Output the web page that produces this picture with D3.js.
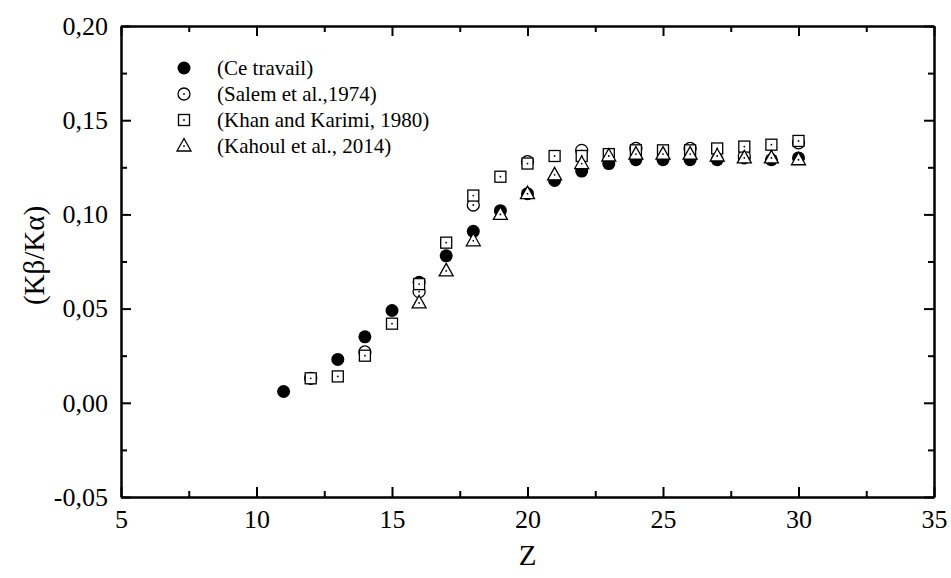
<!doctype html>
<html>
  <head>
    <meta charset="utf-8">
    <title>Kb/Ka ratio</title>
    <script src="https://d3js.org/d3.v7.min.js"></script>
    <style type="text/css">
      body { margin: 0; background-color: #ffffff; }
    </style>
  </head>
  <body>
    <script>
// data
var zCe = [11, 13, 14, 15, 16, 17, 18, 19, 20, 21, 22, 23, 24, 25, 26, 27, 28, 29, 30];
var ceTravail = [0.006, 0.023, 0.035, 0.049, 0.064, 0.078, 0.091, 0.102, 0.111, 0.118, 0.123, 0.127, 0.129, 0.129, 0.129, 0.129, 0.130, 0.129, 0.130];

var zSalem = [12, 14, 16, 18, 20, 22, 24, 26, 28, 30];
var salem = [0.013, 0.027, 0.059, 0.105, 0.128, 0.134, 0.135, 0.135, 0.131, 0.138];

var zKhan = [12, 13, 14, 15, 16, 17, 18, 19, 20, 21, 22, 23, 24, 25, 26, 27, 28, 29, 30];
var khan = [0.013, 0.014, 0.025, 0.042, 0.063, 0.085, 0.110, 0.120, 0.127, 0.131, 0.131, 0.132, 0.134, 0.134, 0.134, 0.135, 0.136, 0.137, 0.139];

var zKahoul = [16, 17, 18, 19, 20, 21, 22, 23, 24, 25, 26, 27, 28, 29, 30];
var kahoul = [0.053, 0.070, 0.086, 0.100, 0.111, 0.121, 0.127, 0.131, 0.132, 0.132, 0.132, 0.131, 0.130, 0.130, 0.129];

var legendLabels = ["(Ce travail)", "(Salem et al.,1974)", "(Khan and Karimi, 1980)", "(Kahoul et al., 2014)"];
var xTicks = [5, 10, 15, 20, 25, 30, 35];
var yTicks = [-0.05, 0, 0.05, 0.10, 0.15, 0.20];

var w = 951, h = 578;
var margin = {top: 26, right: 17, bottom: 81, left: 121};
var iw = w - margin.left - margin.right;
var ih = h - margin.top - margin.bottom;
var serif = "Liberation Serif";

var svg = d3.select("body").append("svg")
  .attr("width", w)
  .attr("height", h);

var g = svg.append("g").attr("transform", "translate(" + margin.left + "," + margin.top + ")");

var x = d3.scaleLinear().domain([5, 35]).range([0, iw]);
var y = d3.scaleLinear().domain([-0.05, 0.20]).range([ih, 0]);

var fmt = function(d) { return d.toFixed(2).replace(".", ","); };
var xMinor = d3.range(7.5, 35, 5);
var yMinor = d3.range(-0.025, 0.2, 0.05);

// axes, ticks pointing inward
function styleAxis(sel) {
  sel.attr("font-family", null).attr("font-size", null);
  sel.select(".domain").attr("stroke", "#000").attr("stroke-width", 2);
  sel.selectAll(".tick line").attr("stroke", "#000").attr("stroke-width", 2);
  sel.selectAll(".tick text").style("font-family", serif).style("font-size", "26px");
}

g.append("g").attr("transform", "translate(0," + ih + ")")
  .call(d3.axisBottom(x).tickValues(xTicks).tickSize(-10).tickPadding(13).tickSizeOuter(0))
  .call(styleAxis);
g.append("g").attr("transform", "translate(0," + ih + ")")
  .call(d3.axisBottom(x).tickValues(xMinor).tickSize(-6).tickFormat("").tickSizeOuter(0))
  .call(styleAxis);
g.append("g")
  .call(d3.axisTop(x).tickValues(xTicks).tickSize(-10).tickFormat("").tickSizeOuter(0))
  .call(styleAxis);
g.append("g")
  .call(d3.axisTop(x).tickValues(xMinor).tickSize(-6).tickFormat("").tickSizeOuter(0))
  .call(styleAxis);

g.append("g")
  .call(d3.axisLeft(y).tickValues(yTicks).tickSize(-10).tickPadding(13).tickFormat(fmt).tickSizeOuter(0))
  .call(styleAxis);
g.append("g")
  .call(d3.axisLeft(y).tickValues(yMinor).tickSize(-6).tickFormat("").tickSizeOuter(0))
  .call(styleAxis);
g.append("g").attr("transform", "translate(" + iw + ",0)")
  .call(d3.axisRight(y).tickValues(yTicks).tickSize(-10).tickFormat("").tickSizeOuter(0))
  .call(styleAxis);
g.append("g").attr("transform", "translate(" + iw + ",0)")
  .call(d3.axisRight(y).tickValues(yMinor).tickSize(-6).tickFormat("").tickSizeOuter(0))
  .call(styleAxis);

// axis titles
svg.append("text")
  .attr("transform", "translate(44," + (margin.top + ih / 2 - 6) + ") rotate(-90)")
  .attr("text-anchor", "middle")
  .style("font-family", serif)
  .style("font-size", "29px")
  .text("(K\u03B2/K\u03B1)");

svg.append("text")
  .attr("x", margin.left + iw / 2)
  .attr("y", 565)
  .attr("text-anchor", "middle")
  .style("font-family", serif)
  .style("font-size", "29px")
  .text("Z");

// marker drawing
function marker(sel, kind) {
  if (kind === "dot") {
    sel.append("circle").attr("r", 6.5).attr("fill", "#000");
    return;
  }
  if (kind === "circle") {
    sel.append("circle").attr("r", 6).attr("fill", "#fff").attr("stroke", "#000").attr("stroke-width", 1.3);
  } else if (kind === "square") {
    sel.append("rect").attr("x", -5.5).attr("y", -5.5).attr("width", 11).attr("height", 11)
      .attr("fill", "#fff").attr("stroke", "#000").attr("stroke-width", 1.3);
  } else {
    sel.append("path").attr("d", "M0,-7.5L7,5L-7,5Z")
      .attr("fill", "#fff").attr("stroke", "#000").attr("stroke-width", 1.3);
  }
  sel.append("circle").attr("r", 0.9).attr("fill", "#000");
}

var series = [
  {z: zCe, v: ceTravail, kind: "dot"},
  {z: zSalem, v: salem, kind: "circle"},
  {z: zKhan, v: khan, kind: "square"},
  {z: zKahoul, v: kahoul, kind: "triangle"}
];

series.forEach(function(s) {
  var pts = s.z.map(function(z, i) { return {z: z, v: s.v[i]}; });
  g.append("g").selectAll("g")
    .data(pts)
    .enter()
    .append("g")
    .attr("transform", function(d) { return "translate(" + x(d.z) + "," + y(d.v) + ")"; })
    .each(function() { marker(d3.select(this), s.kind); });
});

// legend
var legend = svg.append("g").attr("transform", "translate(184,68)");
series.forEach(function(s, i) {
  var row = legend.append("g").attr("transform", "translate(0," + (i * 26) + ")");
  marker(row.append("g"), s.kind);
  row.append("text")
    .attr("x", 33)
    .attr("y", 7)
    .style("font-family", serif)
    .style("font-size", "21px")
    .text(legendLabels[i]);
});
    </script>
  </body>
</html>
